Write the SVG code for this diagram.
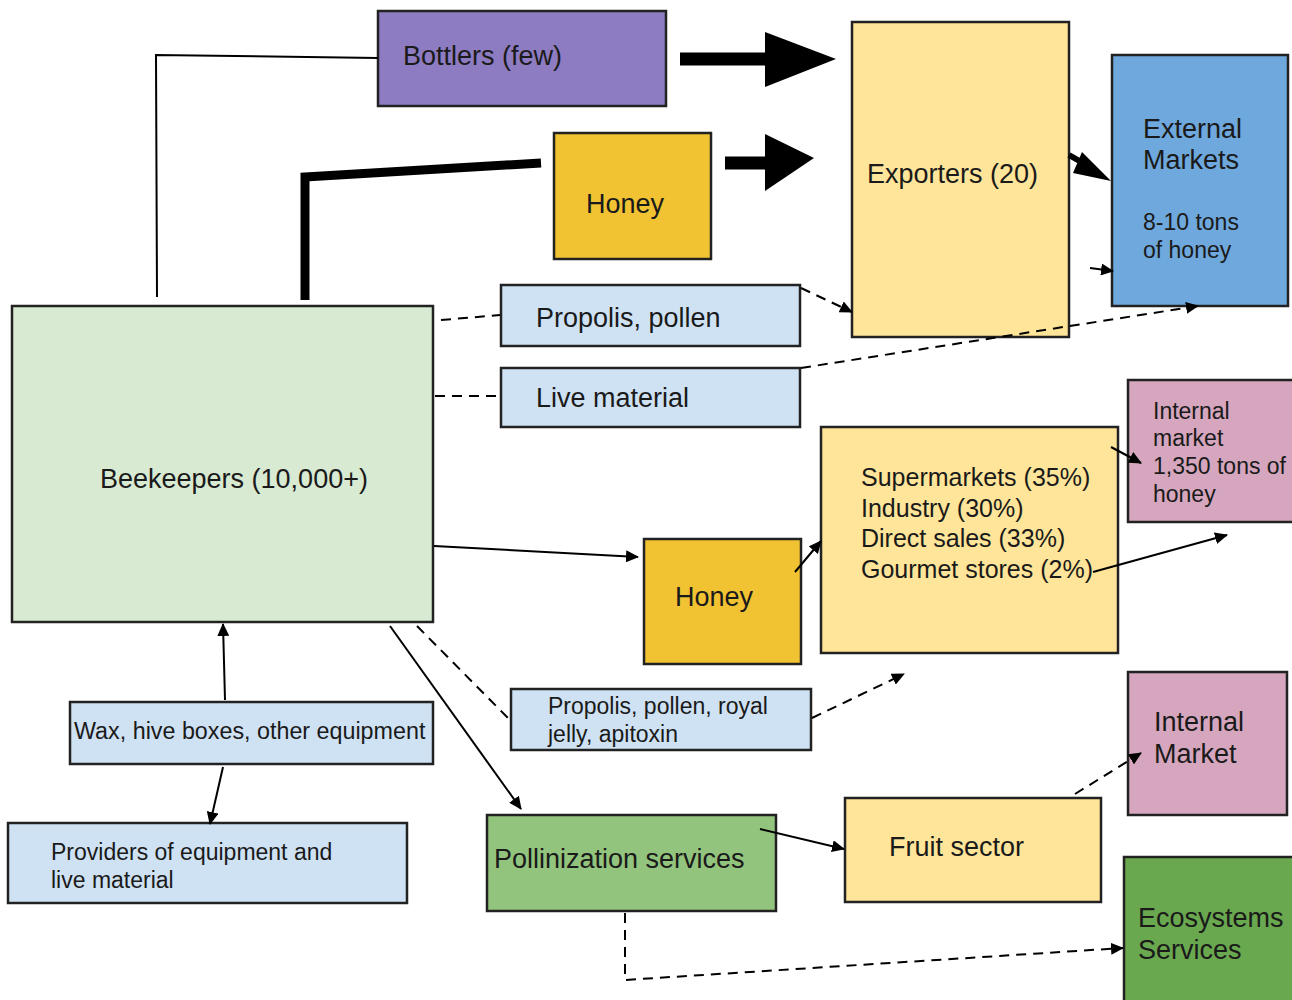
<svg xmlns="http://www.w3.org/2000/svg" width="1292" height="1000" viewBox="0 0 1292 1000">
<style>
.box{stroke:#222;stroke-width:2.5}
text{font-family:"Liberation Sans",Arial,sans-serif;fill:#1a1a1a}
.l{font-size:27px}.m{font-size:25px}.s{font-size:23px}.w{font-size:23.3px}
.c{stroke:#000;fill:none;stroke-width:2}
.d{stroke:#000;fill:none;stroke-width:2;stroke-dasharray:10 7}
</style>
<defs>
<marker id="a" markerWidth="13" markerHeight="12" refX="12" refY="6" orient="auto" markerUnits="userSpaceOnUse" viewBox="0 0 13 12"><path d="M0,0 L13,6 L0,12 z" fill="#000"/></marker>
</defs>
<rect width="1292" height="1000" fill="#fff"/>
<g id="bottlers"><rect class="box" x="378" y="11" width="288" height="95" fill="#8e7cc3"/><text class="l" x="403" y="65">Bottlers (few)</text></g>
<g id="honey-top"><rect class="box" x="554" y="133" width="157" height="126" fill="#f1c232"/><text class="l" x="586" y="213">Honey</text></g>
<g id="exporters"><rect class="box" x="852" y="22" width="217" height="315" fill="#ffe599"/><text class="l" x="867" y="183">Exporters (20)</text></g>
<g id="external"><rect class="box" x="1112" y="55" width="176" height="251" fill="#6fa8dc"/><text class="l" x="1143" y="138">External</text><text class="l" x="1143" y="169">Markets</text><text class="s" x="1143" y="230">8-10 tons</text><text class="s" x="1143" y="258">of honey</text></g>
<g id="propolis-top"><rect class="box" x="501" y="285" width="299" height="61" fill="#cfe2f3"/><text class="l" x="536" y="327">Propolis, pollen</text></g>
<g id="live"><rect class="box" x="501" y="368" width="299" height="59" fill="#cfe2f3"/><text class="l" x="536" y="407">Live material</text></g>
<g id="beekeepers"><rect class="box" x="12" y="306" width="421" height="316" fill="#d9ead3"/><text class="l" x="100" y="488">Beekeepers (10,000+)</text></g>
<g id="honey-mid"><rect class="box" x="644" y="539" width="157" height="125" fill="#f1c232"/><text class="l" x="675" y="606">Honey</text></g>
<g id="retail"><rect class="box" x="821" y="427" width="297" height="226" fill="#ffe599"/><text class="m" x="861" y="486">Supermarkets (35%)</text><text class="m" x="861" y="517">Industry (30%)</text><text class="m" x="861" y="547">Direct sales (33%)</text><text class="m" x="861" y="578">Gourmet stores (2%)</text></g>
<g id="internal-market-1"><rect class="box" x="1128" y="380" width="166" height="142" fill="#d5a6bd"/><text class="s" x="1153" y="419">Internal</text><text class="s" x="1153" y="446">market</text><text class="s" x="1153" y="474">1,350 tons of</text><text class="s" x="1153" y="502">honey</text></g>
<g id="propolis-bottom"><rect class="box" x="511" y="689" width="300" height="61" fill="#cfe2f3"/><text class="s" x="548" y="714">Propolis, pollen, royal</text><text class="s" x="548" y="742">jelly, apitoxin</text></g>
<g id="wax"><rect class="box" x="70" y="702" width="363" height="62" fill="#cfe2f3"/><text class="w" x="74" y="739">Wax, hive boxes, other equipment</text></g>
<g id="providers"><rect class="box" x="8" y="823" width="399" height="80" fill="#cfe2f3"/><text class="s" x="51" y="860">Providers of equipment and</text><text class="s" x="51" y="888">live material</text></g>
<g id="pollinization"><rect class="box" x="487" y="815" width="289" height="96" fill="#93c47d"/><text class="l" x="494" y="868">Pollinization services</text></g>
<g id="fruit"><rect class="box" x="845" y="798" width="256" height="104" fill="#ffe599"/><text class="l" x="889" y="856">Fruit sector</text></g>
<g id="internal-market-2"><rect class="box" x="1128" y="672" width="159" height="143" fill="#d5a6bd"/><text class="l" x="1154" y="731">Internal</text><text class="l" x="1154" y="763">Market</text></g>
<g id="ecosystems"><rect class="box" x="1124" y="857" width="170" height="145" fill="#6aa84f"/><text class="l" x="1138" y="927">Ecosystems</text><text class="l" x="1138" y="959">Services</text></g>
<g id="connectors">
<polyline class="c" points="157,297 156,55 378,58"/>
<polyline points="305,300 305,177 541,163" fill="none" stroke="#000" stroke-width="9"/>
<line x1="680" y1="59" x2="768" y2="59" stroke="#000" stroke-width="13"/>
<path d="M765,32 L836,59 L765,87 z" fill="#000"/>
<line x1="725" y1="163" x2="768" y2="163" stroke="#000" stroke-width="13"/>
<path d="M765,134 L814,158 L765,191 z" fill="#000"/>
<line x1="1069" y1="155" x2="1090" y2="167" stroke="#000" stroke-width="6"/>
<path d="M1082,152 L1111,181 L1073,173 z" fill="#000"/>
<line class="c" x1="1090" y1="268" x2="1113" y2="271" marker-end="url(#a)"/>
<line class="d" x1="441" y1="320" x2="500" y2="315"/>
<line class="d" x1="435" y1="396" x2="500" y2="396"/>
<line class="d" x1="801" y1="288" x2="852" y2="312" marker-end="url(#a)"/>
<line class="d" x1="801" y1="368" x2="1198" y2="306" marker-end="url(#a)"/>
<line class="c" x1="434" y1="546" x2="638" y2="557" marker-end="url(#a)"/>
<line class="c" x1="795" y1="572" x2="821" y2="541" marker-end="url(#a)"/>
<line class="c" x1="1111" y1="447" x2="1141" y2="463" marker-end="url(#a)"/>
<line class="c" x1="1093" y1="572" x2="1227" y2="535" marker-end="url(#a)"/>
<line class="d" x1="417" y1="626" x2="510" y2="720"/>
<line class="d" x1="812" y1="718" x2="904" y2="674" marker-end="url(#a)"/>
<line class="c" x1="390" y1="626" x2="521" y2="809" marker-end="url(#a)"/>
<line class="c" x1="225" y1="700" x2="223" y2="624" marker-end="url(#a)"/>
<line class="c" x1="223" y1="767" x2="210" y2="824" marker-end="url(#a)"/>
<line class="c" x1="760" y1="829" x2="844" y2="849" marker-end="url(#a)"/>
<line class="d" x1="1075" y1="794" x2="1141" y2="753" marker-end="url(#a)"/>
<polyline class="d" points="625,913 625,980 1123,948" marker-end="url(#a)"/>
</g>
</svg>
